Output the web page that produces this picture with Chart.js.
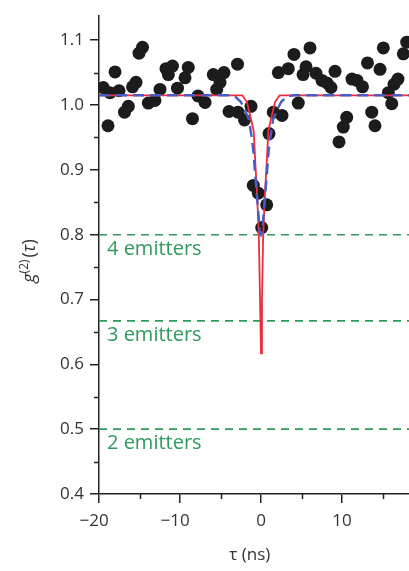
<!DOCTYPE html>
<html>
<head>
<meta charset="utf-8">
<script src="https://cdn.jsdelivr.net/npm/chart.js@4.4.1/dist/chart.umd.min.js"></script>
<style>
  html, body { margin: 0; padding: 0; background: #fff; }
  #wrap { width: 409px; height: 571px; }
</style>
</head>
<body>
<div id="wrap"><canvas id="c"></canvas></div>
<script>
// Measured g2(tau) histogram points (tau in ns)
const tau = [
  -19.47, -18.02, -18.64, -17.53, -14.63, -15.06, -15.43, -15.86, -16.38, -16.85,
  -18.89, -13.91, -13.09, -12.47, -11.73, -10.93, -11.44, -10.31, -8.98, -9.38,
  -7.78, -6.91, -8.46, -5.89, -4.57, -2.90, -5.06, -5.47, -3.95, -2.84,
  -1.23, -2.04, 1.52, 2.59, 0.99, 4.60, 2.14, 3.37, 4.07, 6.05,
  5.19, 5.56, 6.79, 7.53, 8.15, 8.64, 9.14, 11.23, 11.85, 12.53,
  13.15, 14.69, 15.10, 17.57, 17.99, 16.91, 16.42, 15.72, 16.14, 10.58,
  10.16, 9.63, 13.67, 14.07, -0.95, -0.33, 0.70, 0.09,
];
const g2 = [
  1.027, 1.051, 1.019, 1.022, 1.089, 1.080, 1.035, 1.028, 0.998, 0.989,
  0.968, 1.003, 1.007, 1.024, 1.056, 1.060, 1.047, 1.026, 1.058, 1.042,
  1.014, 1.004, 0.979, 1.047, 1.050, 1.063, 1.035, 1.024, 0.990, 0.989,
  0.998, 0.977, 0.989, 0.984, 0.956, 1.003, 1.050, 1.056, 1.078, 1.088,
  1.047, 1.059, 1.049, 1.038, 1.034, 1.027, 1.052, 1.040, 1.038, 1.028,
  1.065, 1.055, 1.088, 1.079, 1.097, 1.040, 1.032, 1.019, 1.002, 0.981,
  0.966, 0.943, 0.989, 0.968, 0.876, 0.864, 0.846, 0.811,
];

// Fit curves
const redTau = [-20, -2.3, -1.75, -1.3, -0.9, -0.7, -0.5, -0.27, -0.12, 0, 0.12, 0.27, 0.5, 0.7, 0.9, 1.3, 1.75, 2.3, 18.27];
const redFit = [1.015, 1.015, 1.005, 0.982, 0.96, 0.91, 0.866, 0.80, 0.70, 0.617, 0.70, 0.80, 0.866, 0.91, 0.96, 0.982, 1.005, 1.015, 1.015];
const blueTau = [-20, -4, -3.2, -2.5, -1.9, -1.5, -1.15, -0.95, -0.7, -0.4, -0.15, 0, 0.15, 0.4, 0.7, 0.95, 1.15, 1.5, 1.9, 2.5, 3.2, 4, 18.27];
const blueFit = [1.015, 1.015, 1.013, 1.005, 0.99, 0.978, 0.95, 0.93, 0.89, 0.845, 0.805, 0.80, 0.805, 0.845, 0.89, 0.93, 0.95, 0.978, 0.99, 1.005, 1.013, 1.015, 1.015];

const emitterLevels = [0.8, 0.667, 0.5];
const emitterLabels = ["4 emitters", "3 emitters", "2 emitters"];

const xMajor = [-20, -10, 0, 10];
const xMinor = [-15, -5, 5, 15];
const yMajor = [0.4, 0.5, 0.6, 0.7, 0.8, 0.9, 1.0, 1.1];
const yMinor = [0.45, 0.55, 0.65, 0.75, 0.85, 0.95, 1.05];

const X_MIN = -20, X_MAX = 18.27, Y_MIN = 0.4, Y_MAX = 1.137;
const FONT = '"Open Sans", "Liberation Sans", sans-serif';
const INK = "#222";
const GREEN = "#2e9a5c";

const pts = (xs, ys) => xs.map((x, i) => ({ x, y: ys[i] }));

const datasets = [
  {
    data: pts(blueTau, blueFit), showLine: true, pointRadius: 0,
    borderColor: "#4a5cc4", borderWidth: 2.4, borderDash: [11, 6], tension: 0,
  },
  {
    data: pts(redTau, redFit), showLine: true, pointRadius: 0,
    borderColor: "#ec2d3c", borderWidth: 1.8, tension: 0,
  },
  ...emitterLevels.map((lv) => ({
    data: [{ x: X_MIN, y: lv }, { x: X_MAX, y: lv }], showLine: true, pointRadius: 0,
    borderColor: GREEN, borderWidth: 1.6, borderDash: [8, 6],
  })),
  {
    data: pts(tau, g2), showLine: false,
    pointRadius: 6.5, pointBackgroundColor: "#1c1c1c", pointBorderWidth: 0,
  },
];

// minor ticks, emitter labels and the g(2)(tau) axis label
const extras = {
  id: "extras",
  afterDraw(chart) {
    const { ctx, scales: { x, y } } = chart;
    ctx.save();
    ctx.strokeStyle = INK;
    ctx.lineWidth = 1.5;
    ctx.beginPath();
    xMinor.forEach((v) => {
      const px = Math.round(x.getPixelForValue(v)) + 0.5;
      ctx.moveTo(px, y.bottom); ctx.lineTo(px, y.bottom + 5);
    });
    yMinor.forEach((v) => {
      const py = Math.round(y.getPixelForValue(v)) + 0.5;
      ctx.moveTo(x.left, py); ctx.lineTo(x.left - 5, py);
    });
    ctx.stroke();

    ctx.fillStyle = GREEN;
    ctx.font = `20px ${FONT}`;
    ctx.textBaseline = "alphabetic";
    emitterLevels.forEach((lv, i) => {
      ctx.fillText(emitterLabels[i], x.left + 8, y.getPixelForValue(lv) + 20);
    });

    // y title: g^(2)(tau), rotated
    ctx.fillStyle = "#333";
    ctx.translate(35, 262);
    ctx.rotate(-Math.PI / 2);
    const parts = [
      { t: "g", f: `italic 18px ${FONT}`, dy: 0 },
      { t: "(2)", f: `12px ${FONT}`, dy: -7 },
      { t: "(", f: `18px ${FONT}`, dy: 0 },
      { t: "τ", f: `italic 18px ${FONT}`, dy: 0 },
      { t: ")", f: `18px ${FONT}`, dy: 0 },
    ];
    let total = 0;
    parts.forEach((p) => { ctx.font = p.f; p.w = ctx.measureText(p.t).width; total += p.w; });
    let cx = -total / 2;
    parts.forEach((p) => { ctx.font = p.f; ctx.fillText(p.t, cx, p.dy); cx += p.w + (p.t === "(2)" ? 2 : 0); });
    ctx.restore();
  },
};

const minus = (v) => (v < 0 ? "\u2212" + Math.abs(v) + "\u2007" : String(v));

new Chart(document.getElementById("c"), {
  type: "scatter",
  data: { datasets },
  options: {
    responsive: true,
    maintainAspectRatio: false,
    animation: false,
    layout: { autoPadding: false, padding: { top: 12, right: 0, left: 0, bottom: 0 } },
    plugins: { legend: { display: false }, tooltip: { enabled: false } },
    scales: {
      x: {
        type: "linear", min: X_MIN, max: X_MAX,
        afterBuildTicks: (s) => { s.ticks = xMajor.map((value) => ({ value })); },
        afterFit: (s) => { s.height = 77; },
        ticks: { color: "#333", font: { family: FONT, size: 17 }, padding: 8, maxRotation: 0, callback: minus },
        grid: { drawOnChartArea: false, drawTicks: true, tickLength: 9, color: INK, lineWidth: 1.5 },
        border: { display: true, color: INK, width: 1.5 },
        title: {
          display: true, text: "τ (ns)\u2002", color: "#333",
          font: { family: FONT, size: 17 }, padding: { top: 0, bottom: 6 },
        },
      },
      y: {
        type: "linear", min: Y_MIN, max: Y_MAX,
        afterBuildTicks: (s) => { s.ticks = yMajor.map((value) => ({ value })); },
        afterFit: (s) => { s.width = 99; },
        ticks: { color: "#333", font: { family: FONT, size: 17 }, padding: 6, callback: (v) => v.toFixed(1) },
        grid: { drawOnChartArea: false, drawTicks: true, tickLength: 9, color: INK, lineWidth: 1.5 },
        border: { display: true, color: INK, width: 1.5 },
      },
    },
  },
  plugins: [extras],
});
</script>
</body>
</html>
